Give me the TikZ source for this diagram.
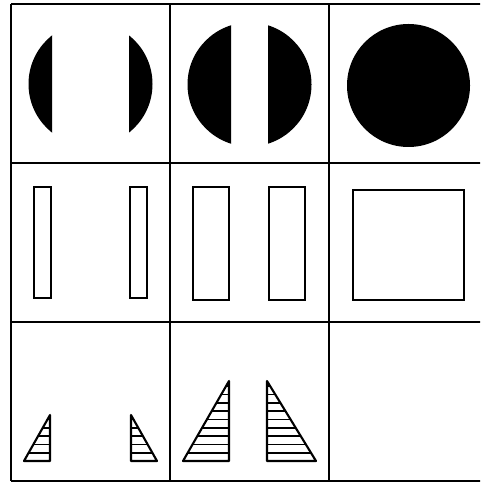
\documentclass[tikz,border=0pt]{standalone}
\usepackage{tikz}

\tikzset{
  gridline/.style={line width=1.5pt, black},
  outline/.style={draw, line width=1.2pt},
  hatch/.style={line width=1pt}
}

\begin{document}
\begin{tikzpicture}[x=0.02cm, y=-0.02cm]
  \useasboundingbox (0,0) rectangle (480,482);
  \clip (0,0) rectangle (480,482);

  % Grid of three by three cells
  \foreach \gx in {11,170,329,488}
    \draw[gridline] (\gx,4) -- (\gx,481);
  \foreach \gy in {4,163,322,481}
    \draw[gridline] (11,\gy) -- (488,\gy);

  % Top row: circles cut into segments
  \begin{scope}
    \clip (20,10) rectangle (52,160);
    \fill (90.5,84) circle (62);
  \end{scope}
  \begin{scope}
    \clip (129,10) rectangle (165,160);
    \fill (90.5,84) circle (62);
  \end{scope}
  \begin{scope}
    \clip (180,10) rectangle (231,160);
    \fill (249.5,84.5) circle (62);
  \end{scope}
  \begin{scope}
    \clip (268,10) rectangle (320,160);
    \fill (249.5,84.5) circle (62);
  \end{scope}
  \fill (408.5,85.5) circle (61.5);

  % Middle row: rectangles
  \draw[outline] (34,187) rectangle (51,298);
  \draw[outline] (130,187) rectangle (147,298);
  \draw[outline] (193,187) rectangle (229,300);
  \draw[outline] (269,187) rectangle (305,300);
  \draw[outline] (353,190) rectangle (464,300);

  % Bottom row: hatched triangles
  \foreach \ax/\bx/\ay/\n in {50/24/415/5, 131/157/415/5, 229/183/381/10, 267/316/381/10} {
    \begin{scope}
      \clip (\ax,\ay) -- (\bx,461) -- (\ax,461) -- cycle;
      \foreach \k in {1,...,\n}
        \draw[hatch] (0,461-\k*8.3+8.3) -- (480,461-\k*8.3+8.3);
    \end{scope}
    \draw[outline, line join=round] (\ax,\ay) -- (\bx,461) -- (\ax,461) -- cycle;
  }
\end{tikzpicture}
\end{document}
